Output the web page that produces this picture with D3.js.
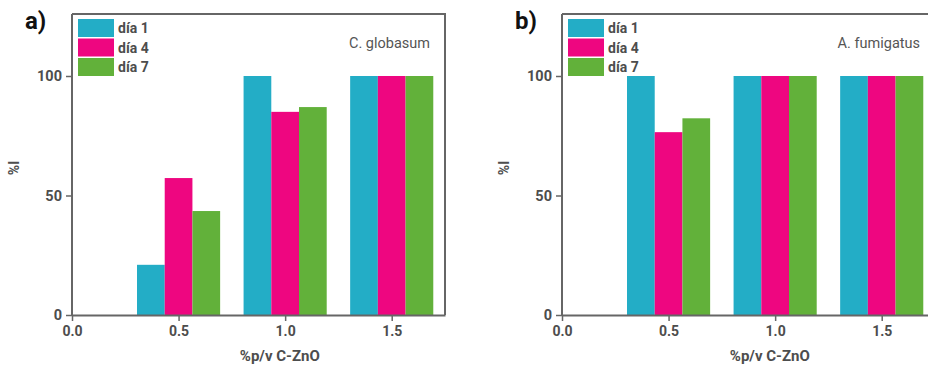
<!DOCTYPE html>
<html>
<head>
<meta charset="utf-8">
<script src="https://cdn.jsdelivr.net/npm/d3@7"></script>
<style>
  body { margin: 0; background: #fff; }
  svg { display: block; font-family: Roboto, "DejaVu Sans", sans-serif; }
</style>
</head>
<body>
<svg id="chart" width="928" height="366"></svg>
<script>
// concentraciones (%p/v C-ZnO)
const concentrations = [0.0, 0.5, 1.0, 1.5];
const series = ["día 1", "día 4", "día 7"];
const seriesColors = ["#23adc6", "#ee0680", "#62b13a"];
const yTicks = [0, 50, 100];
const xTicks = [0.0, 0.5, 1.0, 1.5];

// C. globasum
const globasumDia1 = [0, 21, 100, 100];
const globasumDia4 = [0, 57.3, 85, 100];
const globasumDia7 = [0, 43.5, 87, 100];

// A. fumigatus
const fumigatusDia1 = [0, 100, 100, 100];
const fumigatusDia4 = [0, 76.5, 100, 100];
const fumigatusDia7 = [0, 82.3, 100, 100];

const panels = [
  { tag: "a)", title: "C. globasum", left: 72, values: [globasumDia1, globasumDia4, globasumDia7] },
  { tag: "b)", title: "A. fumigatus", left: 562, values: [fumigatusDia1, fumigatusDia4, fumigatusDia7] }
];

const svg = d3.select("#chart");
const plotW = 373, plotTop = 14, plotBottom = 315;
const barW = 0.13;
const axisColor = "#666";
const textColor = "#4d4d4d";

panels.forEach(p => {
  const g = svg.append("g").attr("transform", `translate(${p.left},0)`);

  const x = d3.scaleLinear().domain([0, 1.75]).range([0, plotW]);
  const y = d3.scaleLinear().domain([0, 100]).range([plotBottom, 76]);

  // barras
  series.forEach((s, i) => {
    g.append("g")
      .selectAll("rect")
      .data(concentrations.map((c, j) => ({ c, v: p.values[i][j] })))
      .join("rect")
      .attr("x", d => x(d.c + (i - 1.5) * barW))
      .attr("y", d => y(d.v))
      .attr("width", x(barW) - x(0))
      .attr("height", d => plotBottom - y(d.v))
      .attr("fill", seriesColors[i]);
  });

  // marco
  g.append("path")
    .attr("d", `M0,${plotTop}H${plotW}V${plotBottom}`)
    .attr("fill", "none")
    .attr("stroke", axisColor)
    .attr("stroke-width", 2);

  // eje X
  const xAxis = g.append("g")
    .attr("transform", `translate(0,${plotBottom})`)
    .call(d3.axisBottom(x).tickValues(xTicks).tickFormat(d3.format(".1f")).tickSize(6).tickSizeOuter(0).tickPadding(5));
  xAxis.select(".domain").attr("stroke", axisColor).attr("stroke-width", 2);
  xAxis.selectAll(".tick line").attr("stroke", axisColor).attr("stroke-width", 1.5);
  xAxis.selectAll("text")
    .attr("fill", textColor).style("font-size", "14px").style("font-weight", "bold")
    .style("font-family", "Roboto, sans-serif");

  // eje Y
  const yAxis = g.append("g")
    .call(d3.axisLeft(y).tickValues(yTicks).tickSize(6).tickSizeOuter(0).tickPadding(4));
  yAxis.select(".domain").attr("stroke", axisColor).attr("stroke-width", 2)
    .attr("d", `M0,${plotBottom}V${plotTop}`);
  yAxis.selectAll(".tick line").attr("stroke", axisColor).attr("stroke-width", 1.5);
  yAxis.selectAll("text")
    .attr("fill", textColor).style("font-size", "14.5px").style("font-weight", "bold")
    .style("font-family", "Roboto, sans-serif");

  // títulos de ejes
  g.append("text")
    .attr("x", x(0.975)).attr("y", 361)
    .attr("text-anchor", "middle")
    .attr("fill", textColor).style("font-size", "15px").style("font-weight", "bold")
    .text("%p/v C-ZnO");

  g.append("text")
    .attr("transform", `translate(-53,168) rotate(-90)`)
    .attr("text-anchor", "middle")
    .attr("fill", textColor).style("font-size", "14px").style("font-weight", "bold")
    .text("%I");

  // etiqueta del panel
  g.append("text")
    .attr("x", -47).attr("y", 29)
    .attr("fill", "#111").style("font-size", "24px").style("font-weight", "bold")
    .text(p.tag);

  // nombre del hongo
  g.append("text")
    .attr("x", 358).attr("y", 48)
    .attr("text-anchor", "end")
    .attr("fill", "#555").style("font-size", "14.5px")
    .text(p.title);

  // leyenda
  const legend = g.append("g").attr("transform", "translate(6,19)");
  series.forEach((s, i) => {
    legend.append("rect")
      .attr("x", 0).attr("y", i * 19.5)
      .attr("width", 36).attr("height", 18)
      .attr("fill", seriesColors[i]);
    legend.append("text")
      .attr("x", 40).attr("y", i * 19.5 + 14)
      .attr("fill", textColor).style("font-size", "14px").style("font-weight", "bold")
      .text(s);
  });
});
</script>
</body>
</html>
